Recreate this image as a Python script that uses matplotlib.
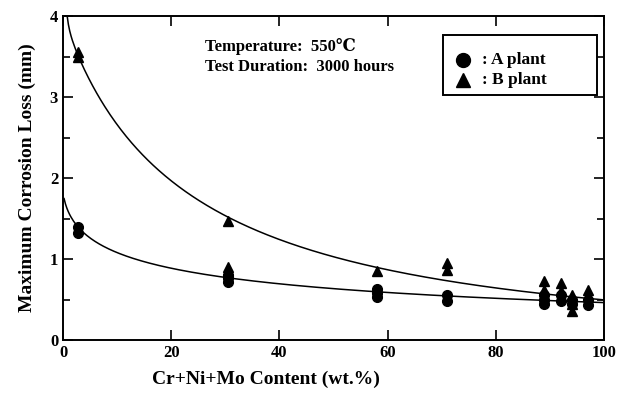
"""
Maximum corrosion loss vs Cr+Ni+Mo content, plants A and B.
"""

import matplotlib
matplotlib.use("Agg")
import matplotlib.pyplot as plt
import numpy as np
from matplotlib.ticker import MultipleLocator

plt.rcParams["font.family"] = ["Liberation Serif", "DejaVu Serif"]
plt.rcParams["font.weight"] = "bold"

# A plant (circles)
A_X = [2.7, 2.7, 30.5, 30.5, 30.5, 58, 58, 58, 71, 71,
       89, 89, 89, 92, 92, 94, 94, 97, 97]
A_Y = [1.40, 1.32, 0.80, 0.76, 0.72, 0.63, 0.58, 0.53, 0.55, 0.48,
       0.55, 0.50, 0.45, 0.55, 0.48, 0.50, 0.45, 0.50, 0.43]

# B plant (triangles)
B_X = [2.7, 2.7, 30.5, 30.5, 30.5, 58, 71, 71,
       89, 89, 89, 92, 92, 94, 94, 94, 97, 97]
B_Y = [3.55, 3.50, 1.47, 0.90, 0.85, 0.85, 0.95, 0.87,
       0.73, 0.62, 0.55, 0.70, 0.60, 0.55, 0.45, 0.36, 0.62, 0.55]

# points
CURVE_A_X = [0.2, 2.7, 5.5, 11.8, 30.3, 58, 71, 100]
CURVE_A_Y = [1.75, 1.36, 1.27, 1.06, 0.75, 0.59, 0.54, 0.47]
CURVE_B_X = [0.75, 2.7, 30.5, 58, 71, 88.5, 98]
CURVE_B_Y = [4.0, 3.55, 1.47, 0.92, 0.76, 0.56, 0.50]


def trend(xs, ys, x_from, x_to):
    # smooth fit in log-log space
    p = np.polyfit(np.log(xs), np.log(ys), 3)
    xx = np.linspace(x_from, x_to, 400)
    return xx, np.exp(np.polyval(p, np.log(xx)))


fig = plt.figure(figsize=(6.19, 3.94), dpi=100)
ax = fig.add_axes([63 / 619, 54 / 394, 541 / 619, 324 / 394])

xa, ya = trend(CURVE_A_X, CURVE_A_Y, 0.2, 100)
xb, yb = trend(CURVE_B_X, CURVE_B_Y, 0.75, 100)
ax.plot(xa, ya, color="black", linewidth=1.1)
ax.plot(xb, yb, color="black", linewidth=1.1)

ax.plot(A_X, A_Y, "o", color="black", markersize=7, linestyle="none")
ax.plot(B_X, B_Y, "^", color="black", markersize=7, linestyle="none")

ax.set_xlim(0, 100)
ax.set_ylim(0, 4)
ax.xaxis.set_major_locator(MultipleLocator(20))
ax.yaxis.set_major_locator(MultipleLocator(1))
ax.yaxis.set_minor_locator(MultipleLocator(0.5))
ax.tick_params(which="both", direction="in", top=True, right=True,
               labelsize=12, width=1.2)
ax.tick_params(which="major", length=7)
ax.tick_params(which="minor", length=5)
for s in ax.spines.values():
    s.set_linewidth(1.4)

ax.set_xlabel("Cr+Ni+Mo Content (wt.%)", fontsize=14, fontweight="bold")
ax.xaxis.set_label_coords(0.375, -0.095)
ax.set_ylabel("Maximum Corrosion Loss (mm)", fontsize=14, fontweight="bold",
              labelpad=10)

ax.text(26.2, 3.62, "Temperature:  550\u2103", fontsize=12,
        fontweight="bold", va="center")
ax.text(26.2, 3.37, "Test Duration:  3000 hours", fontsize=12,
        fontweight="bold", va="center")

# legend box
ax.add_patch(plt.Rectangle((70.2, 3.02), 28.5, 0.75, fill=False,
                           edgecolor="black", linewidth=1.4))
ax.plot([73.9], [3.46], "o", color="black", markersize=10)
ax.plot([73.9], [3.21], "^", color="black", markersize=10)
ax.text(77.4, 3.46, ": A plant", fontsize=12.5, fontweight="bold", va="center")
ax.text(77.4, 3.21, ": B plant", fontsize=12.5, fontweight="bold", va="center")

fig.savefig("out.png", dpi=100)
